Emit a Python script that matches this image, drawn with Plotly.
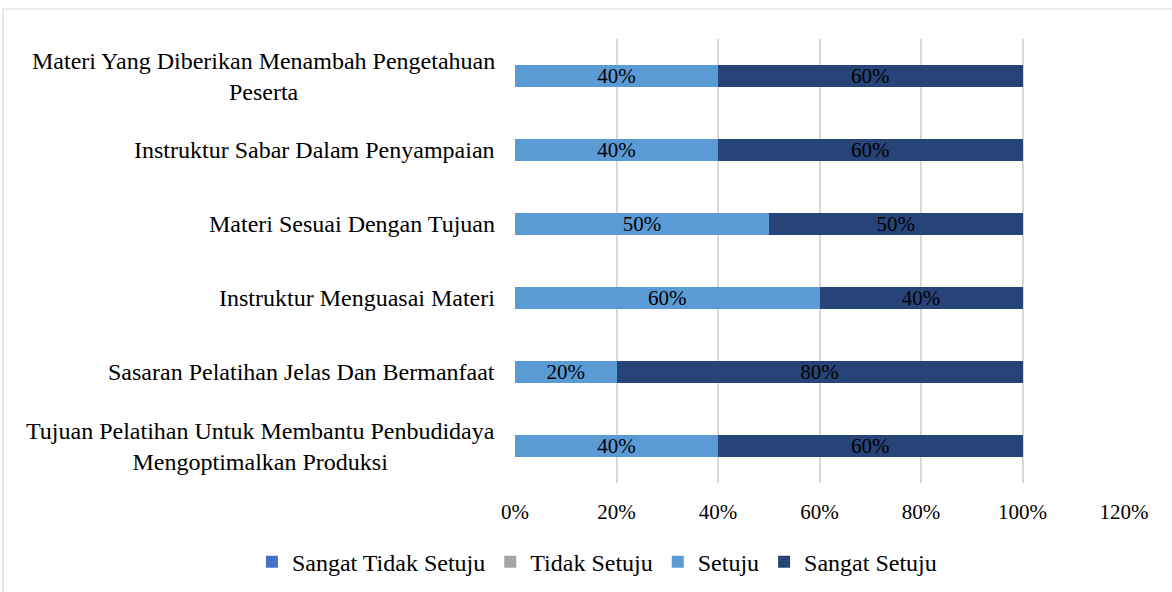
import plotly.graph_objects as go

categories = [
    "Materi Yang Diberikan Menambah Pengetahuan<br>Peserta",
    "Instruktur Sabar Dalam Penyampaian",
    "Materi Sesuai Dengan Tujuan",
    "Instruktur Menguasai Materi",
    "Sasaran Pelatihan Jelas Dan Bermanfaat",
    "Tujuan Pelatihan Untuk Membantu Penbudidaya<br>Mengoptimalkan Produksi",
]
sangat_tidak_setuju = [0, 0, 0, 0, 0, 0]
tidak_setuju = [0, 0, 0, 0, 0, 0]
setuju = [0.40, 0.40, 0.50, 0.60, 0.20, 0.40]
sangat_setuju = [0.60, 0.60, 0.50, 0.40, 0.80, 0.60]
x_ticks = [0, 0.2, 0.4, 0.6, 0.8, 1.0, 1.2]
x_tick_labels = ["0%", "20%", "40%", "60%", "80%", "100%", "120%"]

FONT = "Liberation Serif, Times New Roman, serif"

series = [
    ("Sangat Tidak Setuju", sangat_tidak_setuju, "#4472C4", False),
    ("Tidak Setuju", tidak_setuju, "#A5A5A5", False),
    ("Setuju", setuju, "#5B9BD5", True),
    ("Sangat Setuju", sangat_setuju, "#264478", True),
]

fig = go.Figure()
for name, vals, color, labelled in series:
    fig.add_trace(go.Bar(
        y=categories, x=vals, name=name, orientation="h",
        marker=dict(color=color, line=dict(width=0)),
        texttemplate="%{x:.0%}" if labelled else None,
        textposition="inside" if labelled else "none",
        insidetextanchor="middle",
        constraintext="none",
        textfont=dict(family=FONT, size=21, color="#000000"),
        hoverinfo="skip",
    ))

# category labels: wrapped lines centred on each other, right edge next to the axis
for cat in categories:
    fig.add_annotation(
        x=-0.0295, xref="paper", y=cat, yref="y",
        text=cat, showarrow=False, xanchor="right", yanchor="middle",
        align="center", font=dict(family=FONT, size=24, color="#000000"),
    )

fig.add_shape(type="rect", xref="paper", yref="paper",
              x0=-0.8407, x1=1.09, y0=-0.30, y1=1.0676,
              line=dict(color="#D9D9D9", width=1.2), fillcolor="rgba(0,0,0,0)")

fig.update_layout(
    barmode="stack",
    bargap=0.69,
    width=1172, height=592,
    margin=dict(l=515, r=48, t=39, b=109, autoexpand=False),
    paper_bgcolor="white", plot_bgcolor="white",
    font=dict(family=FONT, size=20, color="#000000"),
    showlegend=True,
    legend=dict(orientation="h", x=-0.432, xanchor="left", y=-0.178,
                yanchor="middle", font=dict(family=FONT, size=24),
                itemsizing="constant", traceorder="normal"),
    xaxis=dict(range=[0, 1.2], tickvals=x_ticks, ticktext=x_tick_labels,
               showgrid=True, gridcolor="#D9D9D9", gridwidth=1.5,
               zeroline=False, showline=False, ticks="",
               tickfont=dict(family=FONT, size=21), ticklabelstandoff=14),
    yaxis=dict(autorange="reversed", showticklabels=False, showgrid=False,
               zeroline=False, showline=False, ticks=""),
)

fig.write_html("out.html")
